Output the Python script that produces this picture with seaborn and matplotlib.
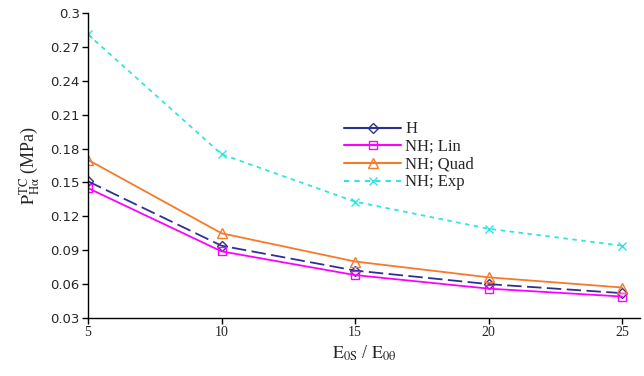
import numpy as np
import pandas as pd
import matplotlib
matplotlib.use("Agg")
import matplotlib.pyplot as plt
import seaborn as sns
from matplotlib.lines import Line2D

ratio = [5, 10, 15, 20, 25]
h_vals = [0.151, 0.094, 0.072, 0.060, 0.052]
lin_vals = [0.145, 0.089, 0.068, 0.056, 0.049]
quad_vals = [0.170, 0.105, 0.080, 0.066, 0.057]
exp_vals = [0.281, 0.175, 0.133, 0.109, 0.094]
series_names = ["H", "NH; Lin", "NH; Quad", "NH; Exp"]
y_ticks = [0.03, 0.06, 0.09, 0.12, 0.15, 0.18, 0.21, 0.24, 0.27, 0.3]
y_tick_labels = ["0.03", "0.06", "0.09", "0.12", "0.15", "0.18", "0.21", "0.24", "0.27", "0.3"]
x_ticks = [5, 10, 15, 20, 25]

sns.set_style("white")
plt.rcParams["font.family"] = ["DejaVu Sans"]
plt.rcParams["mathtext.fontset"] = "stix"

df = pd.DataFrame({
    "x": ratio * 4,
    "y": h_vals + lin_vals + quad_vals + exp_vals,
    "s": sum([[n] * len(ratio) for n in series_names], []),
})

colors = {"H": "#2e3192", "NH; Lin": "#ff00ff", "NH; Quad": "#f7792a", "NH; Exp": "#2ee6e6"}
markers = {"H": "D", "NH; Lin": "s", "NH; Quad": "^", "NH; Exp": "x"}
msizes = {"H": 5, "NH; Lin": 5.5, "NH; Quad": 6.5, "NH; Exp": 6}
dashes = {"H": (8, 3), "NH; Lin": None, "NH; Quad": None, "NH; Exp": (2.5, 2.5)}

fig = plt.figure(figsize=(6.44, 3.76), dpi=100)
ax = fig.add_axes([88 / 644, 1 - 318 / 376, (640 - 88) / 644, (318 - 13) / 376])

for name in series_names:
    sub = df[df["s"] == name]
    ls = "-" if dashes[name] is None else (0, dashes[name])
    mk = markers[name]
    kw = dict(markerfacecolor="none", markeredgecolor=colors[name]) if mk != "x" else dict(markeredgecolor=colors[name])
    sns.lineplot(data=sub, x="x", y="y", ax=ax, color=colors[name], marker=mk,
                 markersize=msizes[name], linestyle=ls, linewidth=1.3,
                 markeredgewidth=1.0, legend=False, **kw)

ax.set_xlim(5, 25.67)
ax.set_ylim(0.03, 0.3)
ax.set_xticks(x_ticks)
ax.set_xticklabels([str(t) for t in x_ticks], fontsize=10, family="Liberation Serif")
ax.set_yticks(y_ticks)
ax.set_yticklabels(y_tick_labels, fontsize=9.5)
for s in ["top", "right"]:
    ax.spines[s].set_visible(False)
for s in ["left", "bottom"]:
    ax.spines[s].set_color("black")
    ax.spines[s].set_linewidth(1.0)
ax.tick_params(axis="both", direction="out", length=4, width=1, color="black", left=True, bottom=True, pad=2)

ax.set_xlabel(r"$\mathrm{E_{0S}}$ / $\mathrm{E_{0\theta}}$", fontsize=13, family="Liberation Serif", labelpad=3)
ax.set_ylabel(r"$\mathrm{P_{H\alpha}^{TC}}$ (MPa)", fontsize=13, family="Liberation Serif", labelpad=6)

handles = []
for name in series_names:
    mk = markers[name]
    if mk == "x":
        h = Line2D([], [], color=colors[name], linestyle=(0, (2.5, 2.5)), marker=mk, markersize=msizes[name], markeredgecolor=colors[name])
    else:
        h = Line2D([], [], color=colors[name], linestyle="-", marker=mk, markersize=msizes[name],
                   markerfacecolor="none", markeredgecolor=colors[name])
    handles.append(h)
leg = fig.legend(handles, series_names, loc="upper left", bbox_to_anchor=(336 / 644, 1 - 113 / 376),
                 frameon=False, prop={"family": "Liberation Serif", "size": 12},
                 handlelength=3.4, handletextpad=0.25, labelspacing=0.1, borderpad=0)

fig.savefig("out.png", dpi=100, facecolor="white")
